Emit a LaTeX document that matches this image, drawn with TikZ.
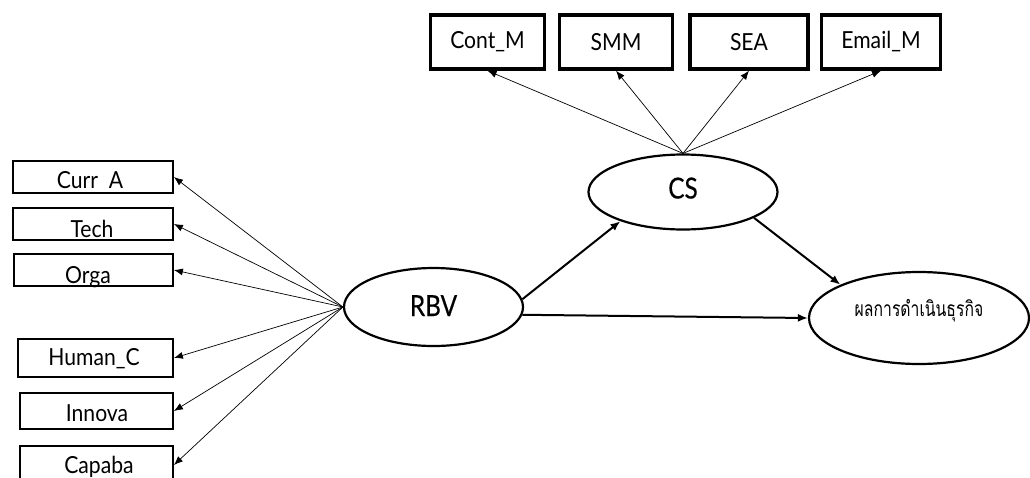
\documentclass[tikz,border=0pt]{standalone}
\usepackage{fontspec}
\setmainfont{Lato}
\newfontfamily\boxfont[FakeStretch=0.9]{Lato}
\newfontfamily\latfont[FakeStretch=0.84,FakeBold=0.4]{Lato}
\newfontfamily\thaifont[Script=Thai,FakeStretch=0.75]{Loma}
\usetikzlibrary{shapes.geometric,arrows.meta}
\begin{document}
\begin{tikzpicture}[x=1pt,y=-1pt,
  lbox/.style={draw, line width=1.8pt, inner sep=0pt},
  tbox/.style={draw, line width=3.4pt, inner sep=0pt, minimum height=54pt,
     font=\boxfont\fontsize{23.5}{26}\selectfont},
  lbl/.style={anchor=base, inner sep=0pt, font=\boxfont\fontsize{23.5}{26}\selectfont},
  lat/.style={ellipse, draw, line width=2.2pt, inner sep=0pt},
  thin arrow/.style={-{Latex[length=9pt,width=7pt]}, line width=0.7pt},
  thick arrow/.style={-{Latex[length=10pt,width=8pt]}, line width=2pt}]
\useasboundingbox (0,0) rectangle (1030,477);
% left indicator boxes
\node[lbox, minimum width=160pt, minimum height=32pt] (curr) at (93,177) {};
\node[lbox, minimum width=160pt, minimum height=32pt] (tech) at (93,224) {};
\node[lbox, minimum width=159pt, minimum height=32pt] (orga) at (93.5,270) {};
\node[lbox, minimum width=155pt, minimum height=38pt] (human) at (95.5,358) {};
\node[lbox, minimum width=153pt, minimum height=36pt] (innova) at (96.5,411) {};
\node[lbox, minimum width=153pt, minimum height=38pt] (capaba) at (96.5,465) {};
\node[lbl] (currt) at (90,188) {Curr\ \ A};
\node[lbl] (techt) at (92,237) {Tech};
\node[lbl] (orgat) at (88,283) {Orga};
\node[lbl] (humant) at (94,365) {Human\_C};
\node[lbl] (innovat) at (97,421) {Innova};
\node[lbl] (capabat) at (99,473) {Capaba};
% top indicator boxes
\node[tbox, minimum width=114pt] (cont) at (487.5,42) {Cont\_M};
\node[tbox, minimum width=113pt] (smm) at (616,42) {SMM};
\node[tbox, minimum width=118pt] (sea) at (749,42) {SEA};
\node[tbox, minimum width=119pt] (email) at (881,42) {Email\_M};
% latent variables
\node[lat, minimum width=179pt, minimum height=78pt, text height=21pt, text depth=3pt,
  font=\latfont\fontsize{29}{32}\selectfont] (rbv) at (433.5,307) {RBV};
\node[lat, minimum width=189pt, minimum height=75pt, text height=21pt, text depth=8pt,
  font=\latfont\fontsize{29}{32}\selectfont] (cs) at (683,192) {CS};
\node[lat, minimum width=220pt, minimum height=92pt, text height=14pt, text depth=18pt,
  font=\thaifont\fontsize{21}{24}\selectfont] (out) at (919,318) {ผลการดำเนินธุรกิจ};
% measurement arrows
\foreach \b in {curr,tech,orga,human,innova,capaba}
  \draw[thin arrow] (rbv.west) -- (\b.east);
\foreach \b in {cont,smm,sea,email}
  \draw[thin arrow] (cs.north) -- (\b.south);
% structural arrows
\draw[thick arrow] (rbv.5) -- (cs.205);
\draw[thick arrow] (rbv.-5) -- (out.west);
\draw[thick arrow] (cs.-20) -- (out.north west);
\end{tikzpicture}
\end{document}
